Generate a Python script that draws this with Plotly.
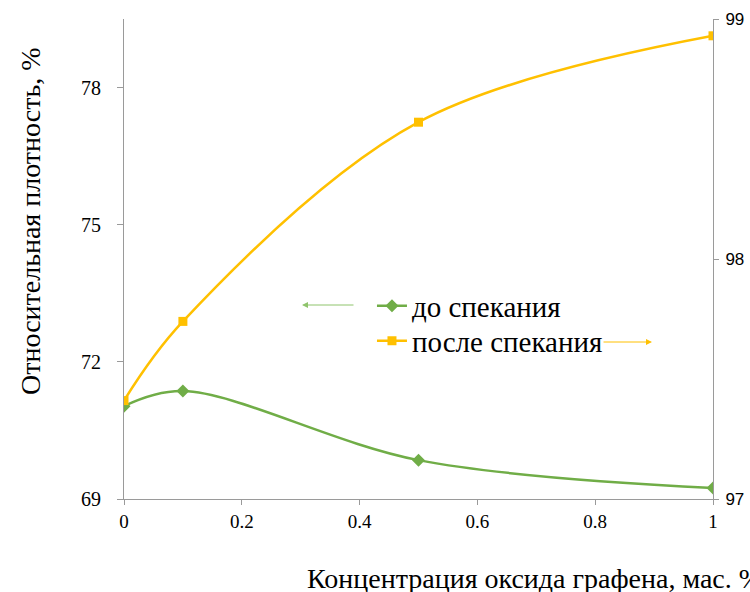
import plotly.graph_objects as go

# Graphene oxide concentration, wt. %
conc = [0, 0.1, 0.5, 1]
# Relative density before sintering, % (left axis)
before_sint = [71.03, 71.36, 69.85, 69.24]
# Relative density after sintering, % (right axis)
after_sint = [97.41, 97.74, 98.57, 98.93]

x_ticks = [0, 0.2, 0.4, 0.6, 0.8, 1]
x_tick_text = ["0", "0.2", "0.4", "0.6", "0.8", "1"]
left_ticks = [69, 72, 75, 78]
right_ticks = [97, 98, 99]

GREEN = "#70AD47"
YELLOW = "#FFC000"
AXIS = "#9A9A9A"
SERIF = "Liberation Serif"
SANS = "Liberation Sans"

fig = go.Figure()
fig.add_trace(go.Scatter(
    x=conc, y=before_sint, name="до спекания", yaxis="y", legend="legend",
    mode="lines+markers",
    line=dict(color=GREEN, width=2.5, shape="spline", smoothing=1),
    marker=dict(symbol="diamond", size=10, color=GREEN),
))
fig.add_trace(go.Scatter(
    x=conc, y=after_sint, name="после спекания", yaxis="y2", legend="legend2",
    mode="lines+markers",
    line=dict(color=YELLOW, width=2.5, shape="spline", smoothing=1),
    marker=dict(symbol="square", size=9, color=YELLOW),
))

legend_style = dict(
    xanchor="left", yanchor="middle",
    font=dict(family=SERIF, size=29, color="black"),
    bgcolor="rgba(0,0,0,0)",
)

fig.update_layout(
    width=750, height=592,
    margin=dict(l=124, r=37, t=19, b=93),
    paper_bgcolor="white", plot_bgcolor="white",
    font=dict(family=SERIF, color="black"),
    showlegend=True,
    legend=dict(x=0.421, y=(499 - 306) / 480, **legend_style),
    legend2=dict(x=0.421, y=(499 - 341) / 480, **legend_style),
    xaxis=dict(
        range=[0, 1], tickvals=x_ticks, ticktext=x_tick_text,
        showgrid=False, zeroline=False, automargin=False,
        showline=True, linecolor=AXIS, linewidth=1,
        ticks="outside", tickcolor=AXIS, ticklen=5,
        tickfont=dict(family=SERIF, size=19, color="black"),
    ),
    yaxis=dict(
        range=[69, 79.5], tickvals=left_ticks,
        showgrid=False, zeroline=False, automargin=False,
        showline=True, linecolor=AXIS, linewidth=1,
        ticks="outside", tickcolor=AXIS, ticklen=6,
        ticklabelstandoff=12,
        tickfont=dict(family=SERIF, size=20, color="black"),
    ),
    yaxis2=dict(
        range=[97, 99], tickvals=right_ticks,
        overlaying="y", side="right",
        showgrid=False, zeroline=False, automargin=False,
        showline=True, linecolor=AXIS, linewidth=1,
        ticks="outside", tickcolor=AXIS, ticklen=5,
        ticklabelstandoff=3,
        tickfont=dict(family=SANS, size=17, color="black"),
    ),
)

# y-axis title
fig.add_annotation(
    text="Относительная плотность, %", textangle=-90,
    xref="paper", yref="paper", x=(31 - 124) / 589, y=(499 - 221) / 480,
    xanchor="center", yanchor="middle", showarrow=False,
    font=dict(family=SERIF, size=28, color="black"),
)

# x-axis title, running off the right edge
fig.add_annotation(
    text="Концентрация оксида графена, мас. %",
    xref="paper", yref="paper", x=(305 - 124) / 589, y=(499 - 578) / 480,
    xanchor="left", yanchor="middle", showarrow=False,
    font=dict(family=SERIF, size=28, color="black"),
)

# arrows pointing each series to its axis
fig.add_annotation(
    xref="paper", yref="paper", x=(302 - 124) / 589, y=(499 - 305) / 480,
    ax=53, ay=0, text="", showarrow=True,
    arrowhead=2, arrowsize=1.2, arrowwidth=1, arrowcolor="#8FC46C",
)
fig.add_annotation(
    xref="paper", yref="paper", x=(652 - 124) / 589, y=(499 - 342) / 480,
    ax=-50, ay=0, text="", showarrow=True,
    arrowhead=2, arrowsize=1.2, arrowwidth=1, arrowcolor=YELLOW,
)

fig.write_html("out.html")
